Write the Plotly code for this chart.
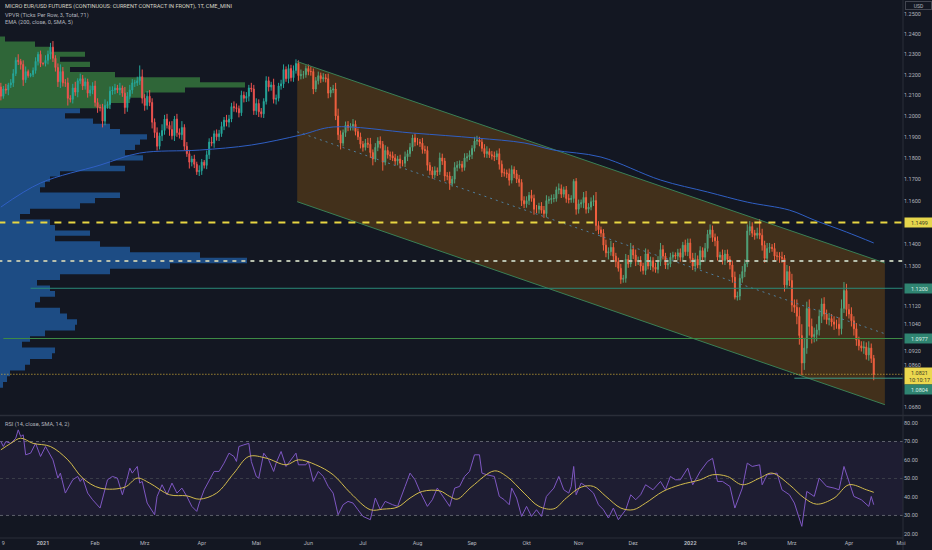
import math

import pandas as pd
import plotly.graph_objects as go

# ---------------------------------------------------------------------------
# data: Micro EUR/USD futures, daily bars from 2020-12-08
# ---------------------------------------------------------------------------
START = "2020-12-08"
FIRST_OPEN = 2110

# daily closes, pips above 1.0000 (2140 -> 1.2140)
close_pips = [
    # Dec 2020
    2140, 2095, 2130, 2125, 2150, 2160, 2205, 2270, 2265, 2250, 2175, 2215, 2195, 2200, 2220, 2265, 2300, 2255,
    # Jan 2021
    2255, 2270, 2300, 2335, 2280, 2235, 2165, 2215, 2160, 2160, 2085, 2080, 2135, 2115, 2170, 2180, 2145, 2165, 2110, 2125, 2145,
    # Feb
    2065, 2040, 2040, 1975, 2050, 2055, 2120, 2125, 2135, 2125, 2135, 2110, 2040, 2095, 2125, 2160, 2160, 2170, 2190, 2085,
    # Mar
    2050, 2095, 2065, 1970, 1920, 1855, 1905, 1930, 1985, 1955, 1935, 1905, 1985, 1920, 1910, 1945, 1855, 1820, 1780, 1795, 1770, 1735, 1740,
    # Apr
    1780, 1765, 1815, 1875, 1870, 1915, 1900, 1915, 1950, 1980, 1970, 1985, 2045, 2040, 2035, 2015, 2100, 2085, 2095, 2135, 2130, 2025,
    # May
    2060, 2020, 2010, 2070, 2170, 2140, 2150, 2080, 2085, 2145, 2155, 2225, 2180, 2230, 2185, 2220, 2255, 2195, 2200, 2200, 2230,
    # Jun
    2215, 2215, 2130, 2170, 2195, 2180, 2185, 2180, 2110, 2125, 2130, 2000, 1910, 1870, 1920, 1955, 1945, 1950, 1960, 1925, 1900, 1865,
    # Jul
    1850, 1870, 1865, 1825, 1795, 1850, 1880, 1865, 1780, 1835, 1815, 1810, 1800, 1785, 1795, 1775, 1775, 1805, 1820, 1850, 1895, 1875,
    # Aug
    1875, 1870, 1840, 1835, 1765, 1740, 1720, 1740, 1735, 1800, 1785, 1715, 1715, 1680, 1700, 1755, 1765, 1770, 1755, 1800, 1805, 1815,
    # Sep
    1845, 1880, 1885, 1875, 1845, 1820, 1830, 1815, 1810, 1805, 1820, 1770, 1730, 1730, 1725, 1695, 1745, 1725, 1700, 1685, 1600, 1585,
    # Oct
    1600, 1625, 1610, 1560, 1560, 1575, 1555, 1540, 1600, 1605, 1610, 1610, 1650, 1655, 1630, 1650, 1610, 1605, 1610, 1690, 1560,
    # Nov
    1585, 1590, 1615, 1560, 1570, 1595, 1600, 1485, 1465, 1450, 1395, 1360, 1365, 1385, 1345, 1320, 1290, 1240, 1245, 1330, 1310, 1375,
    # Dec
    1350, 1320, 1325, 1300, 1280, 1355, 1300, 1325, 1295, 1285, 1320, 1375, 1345, 1305, 1310, 1340, 1350, 1345, 1360, 1340, 1395, 1365, 1405,
    # Jan 2022
    1335, 1300, 1330, 1305, 1370, 1340, 1380, 1445, 1465, 1430, 1415, 1340, 1350, 1325, 1355, 1330, 1305, 1250, 1160, 1165, 1245,
    # Feb
    1275, 1310, 1460, 1480, 1450, 1440, 1450, 1440, 1395, 1335, 1380, 1385, 1380, 1345, 1345, 1340, 1335, 1215, 1275, 1235,
    # Mar
    1125, 1115, 1075, 990, 870, 935, 1110, 1030, 985, 995, 1015, 1075, 1130, 1085, 1060, 1065, 1050, 1040, 1040, 1020, 1110, 1190, 1105,
    # Apr
    1085, 1055, 1020, 970, 945, 935, 940, 905, 935, 890, 821,
]

# upper / lower wick lengths in pips
wick_up = [
    12, 20, 15, 25, 10, 18, 22, 15, 30, 12, 20, 25, 10, 8, 15, 20, 12, 18,
    5, 25, 18, 21, 30, 15, 20, 35, 22, 18, 25, 15, 20, 30, 12, 25, 18, 20, 15, 22, 18,
    25, 20, 15, 18, 30, 15, 22, 18, 20, 15, 25, 12, 30, 20, 25, 18, 15, 20, 55, 35,
    20, 25, 30, 20, 18, 25, 15, 30, 20, 25, 18, 40, 15, 25, 20, 30, 15, 20, 18, 15, 20, 12, 25,
    15, 10, 20, 18, 25, 15, 20, 18, 22, 15, 25, 20, 18, 25, 20, 15, 22, 18, 20, 15, 25, 20,
    25, 20, 18, 15, 22, 20, 15, 30, 18, 15, 20, 25, 15, 20, 18, 25, 20, 15, 25, 18, 15,
    20, 25, 15, 18, 20, 15, 22, 18, 25, 15, 20, 30, 35, 20, 15, 18, 20, 15, 25, 18, 15, 20,
    15, 20, 25, 30, 15, 20, 18, 22, 15, 25, 18, 15, 20, 18, 15, 20, 15, 25, 18, 20, 15, 20,
    20, 15, 25, 18, 20, 15, 18, 20, 15, 25, 20, 15, 18, 20, 15, 25, 20, 18, 15, 22, 18, 20,
    15, 20, 20, 15, 18, 20, 25, 15, 18, 20, 15, 25, 18, 20, 15, 25, 20, 15, 18, 20, 15, 20,
    20, 15, 25, 18, 20, 15, 18, 20, 25, 15, 18, 20, 15, 25, 20, 15, 18, 20, 15, 10, 15,
    20, 15, 25, 30, 18, 20, 25, 40, 20, 15, 18, 25, 20, 30, 20, 15, 18, 20, 15, 25, 20, 30,
    20, 25, 18, 20, 15, 25, 20, 18, 15, 20, 25, 30, 20, 15, 18, 20, 15, 12, 18, 20, 15, 25, 20,
    20, 25, 30, 18, 20, 15, 25, 20, 25, 20, 18, 20, 15, 25, 18, 20, 15, 20, 25, 20, 18,
    25, 20, 30, 25, 20, 15, 25, 65, 30, 20, 25, 20, 15, 25, 20, 18, 25, 15, 30, 25,
    30, 25, 35, 40, 50, 45, 30, 40, 35, 30, 25, 30, 25, 30, 20, 25, 20, 25, 20, 30, 40, 38, 30,
    25, 30, 20, 25, 15, 20, 25, 20, 30, 20, 15,
]
wick_dn = [
    15, 20, 12, 18, 25, 15, 20, 12, 18, 25, 30, 15, 10, 8, 12, 15, 20, 18,
    10, 15, 20, 25, 18, 20, 25, 30, 18, 20, 35, 15, 20, 18, 25, 15, 20, 18, 22, 15, 20,
    20, 25, 18, 30, 20, 15, 22, 18, 20, 15, 25, 18, 30, 20, 15, 18, 20, 15, 20, 25,
    25, 20, 18, 30, 25, 20, 15, 25, 20, 15, 30, 18, 25, 20, 18, 25, 20, 15, 30, 20, 18, 15, 20,
    20, 15, 18, 20, 15, 22, 18, 20, 15, 18, 20, 25, 15, 20, 18, 22, 15, 20, 18, 25, 15, 20,
    20, 25, 18, 20, 15, 22, 18, 20, 25, 15, 18, 20, 15, 22, 18, 20, 15, 25, 18, 20, 15,
    18, 20, 25, 15, 18, 20, 15, 18, 25, 20, 15, 20, 25, 30, 15, 20, 18, 15, 20, 18, 15, 20,
    20, 15, 18, 25, 30, 15, 18, 20, 40, 15, 18, 20, 15, 18, 20, 25, 15, 18, 20, 15, 18, 20,
    15, 18, 20, 15, 25, 20, 18, 15, 20, 15, 18, 25, 20, 30, 15, 20, 18, 15, 20, 15, 18, 15,
    20, 15, 18, 20, 15, 18, 20, 15, 18, 20, 15, 25, 20, 18, 20, 25, 15, 20, 18, 20, 25, 20,
    18, 20, 15, 25, 18, 20, 15, 20, 18, 15, 20, 18, 15, 20, 18, 15, 20, 18, 15, 20, 25,
    20, 18, 25, 20, 18, 15, 20, 25, 20, 18, 25, 20, 30, 18, 20, 25, 15, 20, 15, 20, 18, 15,
    18, 20, 15, 25, 18, 20, 15, 18, 20, 15, 18, 20, 15, 18, 20, 15, 12, 15, 18, 20, 15, 18, 20,
    20, 18, 25, 15, 20, 18, 20, 15, 18, 20, 25, 15, 20, 18, 20, 15, 20, 25, 10, 15, 18,
    20, 25, 15, 20, 18, 20, 15, 18, 25, 20, 18, 20, 15, 18, 20, 25, 20, 30, 15, 25,
    30, 25, 35, 40, 53, 30, 25, 40, 30, 25, 30, 25, 30, 25, 20, 25, 20, 25, 20, 30, 25, 20, 30,
    20, 25, 30, 25, 20, 15, 25, 20, 25, 20, 26,
]
assert len(close_pips) == len(wick_up) == len(wick_dn)

# EMA 200 (bar index, value)
ema_idx = [1, 17, 41, 57, 81, 102, 122, 135, 167, 193, 212, 224, 243, 267, 286, 302, 319, 329, 342, 353]
ema_val = [1.1570, 1.1682, 1.1766, 1.1823, 1.1837, 1.1861, 1.1909, 1.1947, 1.1918, 1.1894,
           1.1871, 1.1837, 1.1804, 1.1696, 1.1640, 1.1593, 1.1556, 1.1510, 1.1455, 1.1405]

# RSI 14 (bar index, value)
rsi_idx = [1, 2, 3, 5, 7, 8, 9, 10, 11, 13, 15, 17, 19, 22, 24, 25, 27, 30, 32, 33, 34, 36, 38, 41,
           44, 46, 48, 50, 52, 53, 54, 56, 57, 58, 60, 63, 64, 66, 68, 70, 72, 74, 76, 78, 80, 81,
           83, 85, 87, 89, 91, 93, 95, 96, 97, 99, 101, 102, 104, 105, 107, 109, 111, 112, 114,
           116, 118, 120, 121, 124, 125, 127, 129, 131, 133, 135, 137, 139, 141, 143, 145, 147,
           150, 152, 154, 156, 159, 161, 164, 166, 168, 170, 173, 175, 177, 180, 182, 184, 186,
           188, 190, 192, 194, 195, 197, 200, 202, 204, 206, 207, 209, 211, 213, 215, 217, 219,
           221, 224, 226, 228, 230, 231, 232, 233, 235, 237, 240, 242, 244, 246, 248, 250, 253,
           255, 257, 259, 261, 264, 267, 269, 271, 273, 275, 278, 280, 283, 286, 288, 290, 292,
           295, 297, 300, 302, 304, 307, 308, 310, 314, 316, 319, 321, 324, 326, 329, 331, 334,
           337, 339, 341, 343, 345, 348, 351, 352, 353]
rsi_val = [70, 67.3, 70, 69, 71.8, 76.3, 72.7, 73.6, 62.8, 63.7, 69, 61.9, 67.3, 60.1, 50.2, 52.9,
           42.1, 49.3, 51.1, 48.4, 50.2, 42.1, 38.5, 34, 49.3, 51.1, 50.2, 41.2, 50.2, 55.6, 52.9,
           56.5, 47.5, 48.4, 36.7, 30.4, 40.3, 46.6, 41.2, 47.5, 42.1, 44.8, 40.3, 34.9, 32.2,
           36.7, 43.9, 49.3, 53.8, 53.8, 58.3, 63.7, 61.9, 59.2, 67.3, 68.2, 69, 59.2, 51.1,
           50.2, 63.7, 60.1, 53.8, 58.3, 64.6, 56.5, 60.1, 63.7, 57.4, 57.4, 59.2, 48.4, 53.8,
           51.1, 45.7, 42.1, 30.4, 35.8, 37.6, 36.7, 33.1, 29.5, 27.7, 39.4, 33.1, 37.6, 35.8,
           34.9, 45.7, 52.9, 49.3, 43, 34.9, 38.5, 44.8, 38.5, 34.9, 44.8, 45.7, 51.1, 53.8,
           62.8, 62.8, 52.9, 52, 51.1, 40.3, 38.5, 35.8, 44.8, 39.4, 29.5, 34.9, 29.5, 33.1,
           29.5, 40.3, 44.8, 51.1, 43.9, 42.1, 45.7, 56.5, 41.2, 47.5, 45.7, 42.1, 35.8, 33.1,
           28.6, 34, 27.7, 33.1, 41.2, 38.5, 41.2, 46.6, 43.9, 48.4, 43.9, 51.1, 49.3, 49.3,
           55.6, 46.6, 53.8, 59.2, 60.9, 48.4, 48.4, 45.7, 34, 44.8, 58.3, 56.5, 57.4, 46.6,
           52, 52.9, 43.9, 41.2, 36.7, 24.1, 43, 40.3, 50.2, 45.7, 44.8, 43.9, 56.5, 48.4,
           40.3, 38.5, 34.9, 40.3, 35.8]
assert len(rsi_idx) == len(rsi_val)

# SMA 14 of RSI
rsi_ma_idx = [1, 5, 9, 14, 21, 28, 34, 41, 51, 56, 61, 69, 76, 81, 88, 95, 101, 108, 116, 121,
              128, 135, 142, 150, 155, 161, 166, 171, 178, 182, 185, 191, 200, 205, 212, 218,
              224, 229, 235, 240, 245, 251, 256, 261, 268, 275, 283, 288, 294, 300, 307, 312,
              319, 325, 330, 337, 343, 350, 353]
rsi_ma_val = [65.5, 69, 71.8, 69, 67.3, 60.1, 50.2, 44.8, 45.3, 50.2, 47.5, 41.2, 40.6, 38.8,
              42.1, 52.9, 61.9, 61, 57.4, 60.1, 57.4, 52, 42.1, 33.1, 33.4, 34.5, 39.4, 43,
              43.3, 40.3, 38.8, 45.7, 54.1, 51.1, 42.1, 34.9, 33.6, 39.4, 45.3, 45.7, 40.3, 34,
              33.1, 36.7, 43, 46.6, 49.3, 52, 51.1, 46.6, 50.2, 52.9, 46.6, 39.4, 36.1, 39.4,
              46.6, 43.9, 42.5]
assert len(rsi_ma_idx) == len(rsi_ma_val)

# visible-range volume profile: row price (top -> bottom) and volume
vp_price = [1.2375, 1.2350, 1.2325, 1.2300, 1.2275, 1.2250, 1.2225, 1.2200, 1.2175, 1.2150,
            1.2125, 1.2100, 1.2075, 1.2050, 1.2025, 1.2000, 1.1975, 1.1950, 1.1925, 1.1900,
            1.1875, 1.1850, 1.1825, 1.1800, 1.1775, 1.1750, 1.1725, 1.1700, 1.1675, 1.1650,
            1.1625, 1.1600, 1.1575, 1.1550, 1.1525, 1.1500, 1.1475, 1.1450, 1.1425, 1.1400,
            1.1375, 1.1350, 1.1325, 1.1300, 1.1275, 1.1250, 1.1225, 1.1200, 1.1175, 1.1150,
            1.1125, 1.1100, 1.1075, 1.1050, 1.1025, 1.1000, 1.0975, 1.0950, 1.0925, 1.0900,
            1.0875, 1.0850, 1.0825, 1.0800, 1.0775]
vp_vol = [5, 35, 50, 85, 60, 90, 70, 115, 200, 245,
          185, 145, 130, 110, 80, 65, 93, 110, 120, 147,
          140, 135, 125, 143, 110, 125, 60, 50, 45, 40,
          120, 95, 80, 30, 20, 50, 55, 90, 55, 100,
          130, 200, 247, 170, 110, 60, 37, 50, 55, 40,
          35, 60, 67, 77, 75, 45, 30, 22, 55, 52,
          30, 25, 10, 7, 3]
VP_STEP = 0.0025
VP_SPLIT = 1.2040  # rows above this price are drawn green

# drawings
CH_X = [120.5, 357.5]
CH_UPPER = [1.2264, 1.1314]
CH_LOWER = [1.1595, 1.0690]
CH_MID = [1.1924, 1.0998]

LVL_YELLOW = 1.1499
LVL_WHITE = 1.1323
LVL_TEAL = 1.1200
LVL_GREEN = 1.0977
LVL_LOW = 1.0804

tick_dates = ["2020-12-10", "2021-01-01", "2021-02-01", "2021-03-01", "2021-04-01", "2021-05-03",
              "2021-06-01", "2021-07-01", "2021-08-02", "2021-09-01", "2021-10-01", "2021-11-01",
              "2021-12-01", "2022-01-03", "2022-02-01", "2022-03-01", "2022-04-01", "2022-05-02"]
tick_text = ["9", "<b>2021</b>", "Feb", "Mrz", "Apr", "Mai", "Jun", "Jul", "Aug", "Sep", "Okt",
             "Nov", "Dez", "<b>2022</b>", "Feb", "Mrz", "Apr", "Mai"]

price_ticks = [1.25, 1.24, 1.23, 1.22, 1.21, 1.20, 1.19, 1.18, 1.17, 1.16,
               1.14, 1.13, 1.112, 1.104, 1.092, 1.086, 1.068]
rsi_ticks = [20, 30, 40, 50, 60, 70, 80]

# ---------------------------------------------------------------------------
# style
# ---------------------------------------------------------------------------
W, H = 932, 550
R_MARGIN, B_MARGIN = 29, 12
PLOT_H = H - B_MARGIN
PLOT_W = W - R_MARGIN
MAIN_D0 = 1 - 415 / PLOT_H
RSI_D1 = 1 - 416 / PLOT_H
X_RANGE = [0.65, 364.8]
X_END = 370
Y_RANGE = [math.log10(1.0646), math.log10(1.2570)]

BG = "#131722"
SEP = "#2a2e39"
TXT = "#b2b5be"
UP = "#26a69a"
DOWN = "#ef5350"
FONT = "Roboto, sans-serif"

# ---------------------------------------------------------------------------
closes = [1 + v / 10000 for v in close_pips]
opens = [1 + FIRST_OPEN / 10000] + closes[:-1]
highs = [max(o, c) + u / 10000 for o, c, u in zip(opens, closes, wick_up)]
lows = [min(o, c) - d / 10000 for o, c, d in zip(opens, closes, wick_dn)]
bars = list(range(len(closes)))

dates = pd.bdate_range(START, periods=400)
tick_idx = [int(dates.searchsorted(pd.Timestamp(d))) for d in tick_dates]

fig = go.Figure()

# volume profile on the base subplot so it sits underneath everything
def profile_polygon(prices, vols):
    half = VP_STEP / 2
    xs, ys = [0], [prices[0] - half]
    for p, v in zip(prices, vols):
        xs += [v, v]
        ys += [p - half, p + half]
    xs.append(0)
    ys.append(prices[-1] + half)
    return xs, ys

rows = sorted(zip(vp_price, vp_vol))
for part, color in (([r for r in rows if r[0] < VP_SPLIT], "#1d4c84"),
                    ([r for r in rows if r[0] >= VP_SPLIT], "#2f6638")):
    xs, ys = profile_polygon([r[0] for r in part], [r[1] for r in part])
    fig.add_trace(go.Scatter(x=xs, y=ys, xaxis="x", yaxis="y", mode="lines",
                             line=dict(width=0), fill="toself", fillcolor=color,
                             hoverinfo="skip"))

# parallel channel
fig.add_trace(go.Scatter(
    x=[CH_X[0], CH_X[1], CH_X[1], CH_X[0]],
    y=[CH_UPPER[0], CH_UPPER[1], CH_LOWER[1], CH_LOWER[0]],
    xaxis="x2", yaxis="y", mode="lines", line=dict(width=0),
    fill="toself", fillcolor="rgba(255,152,0,0.2)", hoverinfo="skip"))
for ys in (CH_UPPER, CH_LOWER):
    fig.add_trace(go.Scatter(x=CH_X, y=ys, xaxis="x2", yaxis="y", mode="lines",
                             line=dict(color="#3a7f55", width=1), hoverinfo="skip"))
fig.add_trace(go.Scatter(x=CH_X, y=CH_MID, xaxis="x2", yaxis="y", mode="lines",
                         line=dict(color="#4f7f9e", width=1, dash="2px,4px"), hoverinfo="skip"))

# horizontal levels
def hline(x0, level, color, width, dash=None):
    fig.add_trace(go.Scatter(x=[x0, X_END], y=[level, level], xaxis="x2", yaxis="y",
                             mode="lines", line=dict(color=color, width=width, dash=dash),
                             hoverinfo="skip"))

hline(0, LVL_YELLOW, "#e8d642", 2, "7px,7px")
hline(0, LVL_WHITE, "#b7bfad", 2, "4px,5px")
hline(13, LVL_TEAL, "#2a8a7a", 1)
hline(2, LVL_GREEN, "#3d8a45", 1)
hline(321, LVL_LOW, "#3f9a88", 1)
hline(0, closes[-1], "#e0b73a", 1, "1px,2px")

# EMA 200
fig.add_trace(go.Scatter(x=ema_idx, y=ema_val, xaxis="x2", yaxis="y", mode="lines",
                         line=dict(color="#2f5fc4", width=1, shape="spline"), hoverinfo="skip"))

# candles
fig.add_trace(go.Candlestick(
    x=bars, open=opens, high=highs, low=lows, close=closes, xaxis="x2", yaxis="y",
    increasing=dict(line=dict(color=UP, width=1), fillcolor=UP),
    decreasing=dict(line=dict(color=DOWN, width=1), fillcolor=DOWN),
    whiskerwidth=0, hoverinfo="skip"))

# RSI
fig.add_trace(go.Scatter(x=rsi_idx, y=rsi_val, xaxis="x3", yaxis="y2", mode="lines",
                         line=dict(color="#7e57c2", width=1), hoverinfo="skip"))
fig.add_trace(go.Scatter(x=rsi_ma_idx, y=rsi_ma_val, xaxis="x3", yaxis="y2", mode="lines",
                         line=dict(color="#d2bb4c", width=1, shape="spline"), hoverinfo="skip"))

shapes = [
    dict(type="rect", xref="paper", yref="y2", x0=0, x1=1, y0=30, y1=70, layer="below",
         fillcolor="rgba(126,87,194,0.1)", line=dict(width=0)),
    dict(type="line", xref="paper", yref="y2", x0=0, x1=1, y0=70, y1=70, layer="below",
         line=dict(color="#5d606b", width=1, dash="3px,3px")),
    dict(type="line", xref="paper", yref="y2", x0=0, x1=1, y0=50, y1=50, layer="below",
         line=dict(color="#3c3f4a", width=1, dash="3px,3px")),
    dict(type="line", xref="paper", yref="y2", x0=0, x1=1, y0=30, y1=30, layer="below",
         line=dict(color="#5d606b", width=1, dash="3px,3px")),
    # pane separators
    dict(type="line", xref="paper", yref="paper", x0=0, x1=W / PLOT_W,
         y0=1 - 415.5 / PLOT_H, y1=1 - 415.5 / PLOT_H, line=dict(color=SEP, width=1.5)),
    dict(type="line", xref="paper", yref="paper", x0=0, x1=1, y0=0, y1=0,
         line=dict(color=SEP, width=1)),
    dict(type="line", xref="paper", yref="paper", x0=1, x1=1, y0=-B_MARGIN / PLOT_H, y1=1,
         line=dict(color=SEP, width=1)),
]

def py(px):
    return 1 - px / PLOT_H

annotations = [
    dict(text="MICRO EUR/USD FUTURES (CONTINUOUS: CURRENT CONTRACT IN FRONT), 1T, CME_MINI",
         x=0, y=py(6.5), font=dict(size=5.6, color="#d6d5c4")),
    dict(text="VPVR (Ticks Per Row, 3, Total, 71)", x=0, y=py(15), font=dict(size=5.6, color=TXT)),
    dict(text="EMA (200, close, 0, SMA, 5)", x=0, y=py(22.5), font=dict(size=5.6, color=TXT)),
    dict(text="RSI (14, close, SMA, 14, 2)", x=0, y=py(424), font=dict(size=5.6, color=TXT)),
]
for a in annotations:
    a.update(xref="paper", yref="paper", xanchor="left", yanchor="middle", xshift=3,
             showarrow=False)

def price_label(level, text, bg, fg, shift=0):
    annotations.append(dict(
        text=text, xref="paper", x=1, xanchor="left", xshift=1,
        yref="y", y=math.log10(level), yanchor="middle", yshift=shift,
        showarrow=False, bgcolor=bg, borderpad=1.5, width=26,
        font=dict(size=5.5, color=fg)))

price_label(LVL_YELLOW, "1.1499", "#e6d64c", "#3a3a24")
price_label(LVL_TEAL, "1.1200", "#2f8471", "#d9efe6")
price_label(LVL_GREEN, "1.0977", "#2f8471", "#d9efe6")
price_label(closes[-1], "%.4f<br>10:10:17" % closes[-1], "#ecd84e", "#3a3a24", -2)
price_label(LVL_LOW, "1.0804", "#2f8471", "#d9efe6", -11)

annotations.append(dict(text="USD", xref="paper", yref="paper", x=1, y=1, xanchor="left",
                        yanchor="top", xshift=2, yshift=-1, showarrow=False, width=24,
                        bordercolor="#434651", borderwidth=1, borderpad=0.5,
                        font=dict(size=5, color=TXT)))

axis_common = dict(showgrid=False, zeroline=False, showline=False, ticks="", ticklen=0,
                   fixedrange=True)

fig.update_layout(
    width=W, height=H,
    margin=dict(l=0, r=R_MARGIN, t=0, b=B_MARGIN, pad=0),
    paper_bgcolor=BG, plot_bgcolor=BG,
    showlegend=False, hovermode=False, dragmode=False,
    boxgap=0.45,
    font=dict(family=FONT, size=5.5, color=TXT),
    xaxis=dict(domain=[0, 1], anchor="y", range=[0, PLOT_W], visible=False, **axis_common),
    xaxis2=dict(overlaying="x", anchor="y", range=X_RANGE, visible=False,
                rangeslider=dict(visible=False), **axis_common),
    xaxis3=dict(domain=[0, 1], anchor="y2", range=X_RANGE, tickmode="array",
                tickvals=tick_idx, ticktext=tick_text, tickfont=dict(size=5.5, color=TXT),
                rangeslider=dict(visible=False), **axis_common),
    yaxis=dict(domain=[MAIN_D0, 1], anchor="x", type="log", range=Y_RANGE, side="right",
               tickmode="array", tickvals=price_ticks,
               ticktext=["%.4f" % v for v in price_ticks],
               tickfont=dict(size=5.5, color=TXT), **axis_common),
    yaxis2=dict(domain=[0, RSI_D1], anchor="x3", range=[17.8, 83.8], side="right",
                tickmode="array", tickvals=rsi_ticks,
                ticktext=["%.2f" % v for v in rsi_ticks],
                tickfont=dict(size=5.5, color=TXT), **axis_common),
    shapes=shapes,
    annotations=annotations,
)

# the page's default body margin would push the 932x550 figure off the window
fig.write_html("out.html", config={"displayModeBar": False},
               post_script="document.body.style.margin='0';")
